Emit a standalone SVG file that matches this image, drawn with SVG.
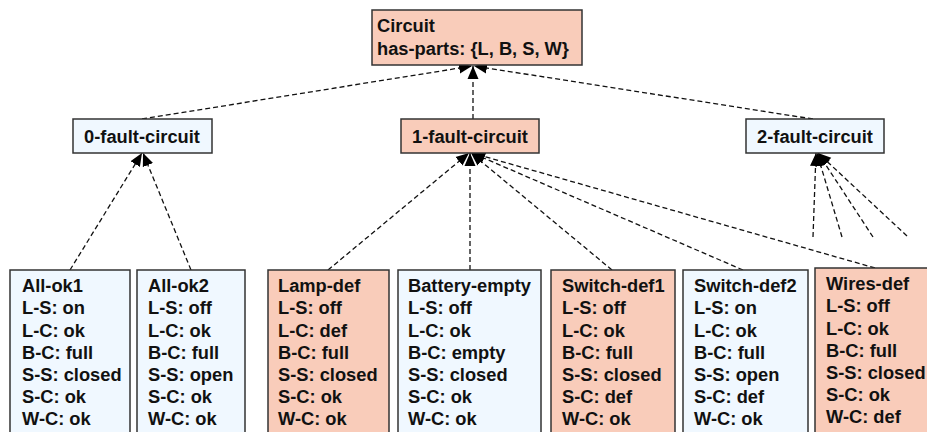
<svg xmlns="http://www.w3.org/2000/svg" width="927" height="432" viewBox="0 0 927 432">
<style>
  .box { stroke: #333; stroke-width: 1.5; }
  .pink { fill: #F9CCBA; }
  .blue { fill: #F0F8FF; }
  text { font-family: "Liberation Sans", Arial, sans-serif; font-weight: bold; font-size: 18.3px; fill: #111; }
  .c { text-anchor: middle; }
  .edge { stroke: #111; stroke-width: 1.3; stroke-dasharray: 5 3; fill: none; marker-end: url(#tri); }
</style>
<defs>
  <marker id="tri" markerUnits="userSpaceOnUse" markerWidth="14" markerHeight="12" refX="13" refY="6" orient="auto">
    <path d="M0,0.5 L13,6 L0,11.5 z" fill="#000"/>
  </marker>
</defs>
<rect width="927" height="432" fill="#fff"/>

<g id="connectors">
  <line class="edge" x1="142" y1="119" x2="472" y2="66"/>
  <line class="edge" x1="473" y1="119" x2="473" y2="66"/>
  <line class="edge" x1="813" y1="119" x2="474" y2="66"/>

  <line class="edge" x1="70" y1="270" x2="142" y2="153"/>
  <line class="edge" x1="191" y1="270" x2="143" y2="153"/>

  <line class="edge" x1="328" y1="270" x2="469" y2="153"/>
  <line class="edge" x1="470" y1="270" x2="470" y2="153"/>
  <line class="edge" x1="612" y1="270" x2="471" y2="153"/>
  <line class="edge" x1="743" y1="270" x2="472" y2="153"/>
  <line class="edge" x1="875" y1="268" x2="472" y2="153"/>

  <line class="edge" x1="813" y1="237" x2="816" y2="153"/>
  <line class="edge" x1="842" y1="237" x2="817" y2="153"/>
  <line class="edge" x1="873" y1="237" x2="818" y2="153"/>
  <line class="edge" x1="907" y1="236" x2="818" y2="153"/>
</g>

<g id="circuit">
  <rect class="box pink" x="372" y="10" width="210" height="55"/>
  <text x="377" y="32">Circuit</text>
  <text x="377" y="55">has-parts: {L, B, S, W}</text>
</g>

<g id="fault0">
  <rect class="box blue" x="73" y="119" width="139" height="34"/>
  <text class="c" x="142" y="143">0-fault-circuit</text>
</g>
<g id="fault1">
  <rect class="box pink" x="401" y="119" width="138" height="34"/>
  <text class="c" x="470" y="143">1-fault-circuit</text>
</g>
<g id="fault2">
  <rect class="box blue" x="746" y="119" width="138" height="34"/>
  <text class="c" x="815" y="143">2-fault-circuit</text>
</g>

<g id="allok1">
  <rect class="box blue" x="10" y="270" width="120" height="172"/>
  <text x="22" y="292">All-ok1</text>
  <text x="22" y="314">L-S: on</text>
  <text x="22" y="336.5">L-C: ok</text>
  <text x="22" y="358.5">B-C: full</text>
  <text x="22" y="381">S-S: closed</text>
  <text x="22" y="403">S-C: ok</text>
  <text x="22" y="425">W-C: ok</text>
</g>
<g id="allok2">
  <rect class="box blue" x="137" y="270" width="108" height="172"/>
  <text x="148" y="292">All-ok2</text>
  <text x="148" y="314">L-S: off</text>
  <text x="148" y="336.5">L-C: ok</text>
  <text x="148" y="358.5">B-C: full</text>
  <text x="148" y="381">S-S: open</text>
  <text x="148" y="403">S-C: ok</text>
  <text x="148" y="425">W-C: ok</text>
</g>
<g id="lampdef">
  <rect class="box pink" x="268" y="270" width="121" height="172"/>
  <text x="278" y="292">Lamp-def</text>
  <text x="278" y="314">L-S: off</text>
  <text x="278" y="336.5">L-C: def</text>
  <text x="278" y="358.5">B-C: full</text>
  <text x="278" y="381">S-S: closed</text>
  <text x="278" y="403">S-C: ok</text>
  <text x="278" y="425">W-C: ok</text>
</g>
<g id="batteryempty">
  <rect class="box blue" x="398" y="270" width="143" height="172"/>
  <text x="408" y="292">Battery-empty</text>
  <text x="408" y="314">L-S: off</text>
  <text x="408" y="336.5">L-C: ok</text>
  <text x="408" y="358.5">B-C: empty</text>
  <text x="408" y="381">S-S: closed</text>
  <text x="408" y="403">S-C: ok</text>
  <text x="408" y="425">W-C: ok</text>
</g>
<g id="switchdef1">
  <rect class="box pink" x="551" y="270" width="124" height="172"/>
  <text x="562" y="292">Switch-def1</text>
  <text x="562" y="314">L-S: off</text>
  <text x="562" y="336.5">L-C: ok</text>
  <text x="562" y="358.5">B-C: full</text>
  <text x="562" y="381">S-S: closed</text>
  <text x="562" y="403">S-C: def</text>
  <text x="562" y="425">W-C: ok</text>
</g>
<g id="switchdef2">
  <rect class="box blue" x="683" y="270" width="125" height="172"/>
  <text x="694" y="292">Switch-def2</text>
  <text x="694" y="314">L-S: on</text>
  <text x="694" y="336.5">L-C: ok</text>
  <text x="694" y="358.5">B-C: full</text>
  <text x="694" y="381">S-S: open</text>
  <text x="694" y="403">S-C: def</text>
  <text x="694" y="425">W-C: ok</text>
</g>
<g id="wiresdef">
  <rect class="box pink" x="815" y="268" width="130" height="172"/>
  <text x="826" y="290">Wires-def</text>
  <text x="826" y="312">L-S: off</text>
  <text x="826" y="334.5">L-C: ok</text>
  <text x="826" y="356.5">B-C: full</text>
  <text x="826" y="379">S-S: closed</text>
  <text x="826" y="401">S-C: ok</text>
  <text x="826" y="423">W-C: def</text>
</g>
</svg>
